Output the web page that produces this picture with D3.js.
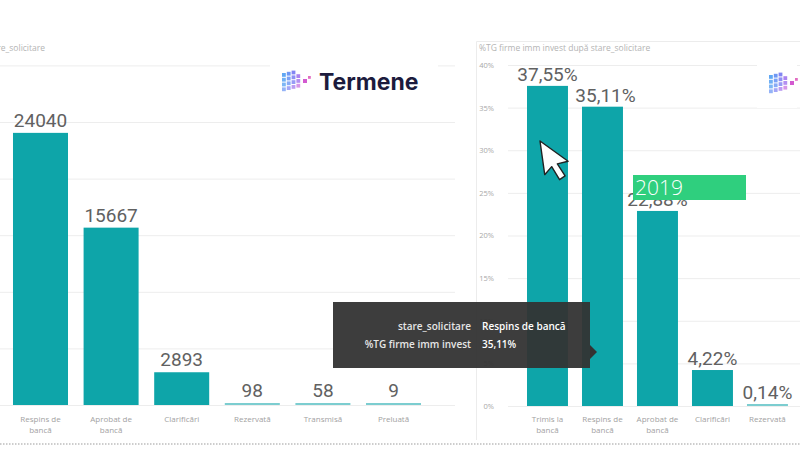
<!DOCTYPE html>
<html>
<head>
<meta charset="utf-8">
<script src="https://cdn.jsdelivr.net/npm/d3@7"></script>
<style>
  html, body { margin: 0; padding: 0; background: #fff; }
  svg { display: block; }
</style>
</head>
<body>
<svg id="chart" width="800" height="450"></svg>
<script>
// ---- Data ----
const leftCategories = ["Respins de bancă", "Aprobat de bancă", "Clarificări", "Rezervată", "Transmisă", "Preluată"];
const leftValues = [24040, 15667, 2893, 98, 58, 9];
const leftTicks = [0, 5000, 10000, 15000, 20000, 25000, 30000];

const rightCategories = ["Trimis la bancă", "Respins de bancă", "Aprobat de bancă", "Clarificări", "Rezervată"];
const rightValues = [0.3755, 0.3511, 0.2288, 0.0422, 0.0014];
const rightTicks = [0, 0.05, 0.10, 0.15, 0.20, 0.25, 0.30, 0.35, 0.40];
const rightTickLabels = ["0%", "5%", "10%", "15%", "20%", "25%", "30%", "35%", "40%"];

const leftTitle = "Număr firme după stare_solicitare";
const rightTitle = "%TG firme imm invest după stare_solicitare";
const tooltipKeys = ["stare_solicitare", "%TG firme imm invest"];
const tooltipIndex = 1;
const yearLabel = "2019";

// ---- Setup ----
const svg = d3.select("#chart");
const teal = "#0ea5a9";
const fmtPct = v => (v * 100).toFixed(2).replace(".", ",") + "%";
const labelFont = "Roboto, 'DejaVu Sans', sans-serif";
const uiFont = "'Open Sans', 'Noto Sans', sans-serif";

// ---- Left chart ----
const yL = d3.scaleLinear().domain([0, 30000]).range([405, 65.4]);
const xL = d3.scaleBand().domain(leftCategories).range([2.4, 431.6]).paddingInner(0.221).paddingOuter(0.15);

svg.append("text").attr("x", 45).attr("y", 51).attr("text-anchor", "end")
  .attr("font-family", uiFont).attr("font-size", 8.5).attr("fill", "#b4b4b4").text(leftTitle);

const gL = svg.append("g");
gL.append("g").attr("class", "grid")
  .call(d3.axisLeft(yL).tickValues(leftTicks).tickSize(-455).tickFormat(""))
  .call(g => g.select(".domain").remove())
  .call(g => g.selectAll("line").attr("stroke", "#ededed").attr("stroke-width", 1));

gL.selectAll("rect.bar").data(leftValues).join("rect")
  .attr("class", "bar")
  .attr("x", (d, i) => xL(leftCategories[i]))
  .attr("width", xL.bandwidth())
  .attr("y", d => Math.min(yL(d), yL(0) - 2))
  .attr("height", d => Math.max(yL(0) - yL(d), 2))
  .attr("fill", d => (yL(0) - yL(d)) < 3 ? "#7ccdd0" : teal);

gL.selectAll("text.val").data(leftValues).join("text")
  .attr("class", "val")
  .attr("x", (d, i) => xL(leftCategories[i]) + xL.bandwidth() / 2)
  .attr("y", d => Math.min(yL(d), yL(0) - 2) - 6)
  .attr("text-anchor", "middle")
  .attr("font-family", labelFont).attr("font-size", 19).attr("fill", "#616161")
  .text(d => d);

function catLabel(g, cats, x) {
  cats.forEach(c => {
    const parts = c.split(" ");
    const lines = parts.length >= 3 ? [parts.slice(0, parts.length - 1).join(" "), parts[parts.length - 1]] : [c];
    const cx = x(c) + x.bandwidth() / 2;
    const t = g.append("text")
      .attr("x", cx).attr("y", 422)
      .attr("text-anchor", "middle")
      .attr("font-family", uiFont).attr("font-size", 8).attr("fill", "#a2a2a2");
    lines.forEach((l, k) => t.append("tspan").attr("x", cx).attr("dy", k === 0 ? 0 : 11).text(l));
  });
}
catLabel(gL, leftCategories, xL);

// ---- Right chart ----
const yR = d3.scaleLinear().domain([0, 0.40]).range([406, 65]);
const xR = d3.scaleBand().domain(rightCategories).range([518.75, 796.2]).paddingInner(0.255).paddingOuter(0.15);

svg.append("path").attr("d", "M476.5,440 L476.5,41.5 L800,41.5")
  .attr("fill", "none").attr("stroke", "#ececec");

svg.append("text").attr("x", 479).attr("y", 51)
  .attr("font-family", uiFont).attr("font-size", 8.5).attr("fill", "#b4b4b4").text(rightTitle);

const gR = svg.append("g");
gR.append("g").attr("class", "grid")
  .attr("transform", "translate(508,0)")
  .call(d3.axisRight(yR).tickValues(rightTicks).tickSize(292).tickFormat(""))
  .call(g => g.select(".domain").remove())
  .call(g => g.selectAll("line").attr("stroke", "#ededed"));

gR.append("g").attr("transform", "translate(497,0)")
  .call(d3.axisLeft(yR).tickValues(rightTicks).tickSize(0).tickFormat((d, i) => rightTickLabels[i]))
  .call(g => g.select(".domain").remove())
  .call(g => g.selectAll("text").attr("font-family", uiFont).attr("font-size", 7.5).attr("fill", "#a8a8a8"));

gR.selectAll("rect.bar").data(rightValues).join("rect")
  .attr("class", "bar")
  .attr("x", (d, i) => xR(rightCategories[i]))
  .attr("width", xR.bandwidth())
  .attr("y", d => Math.min(yR(d), yR(0) - 2))
  .attr("height", d => Math.max(yR(0) - yR(d), 2))
  .attr("fill", d => (yR(0) - yR(d)) < 3 ? "#7ccdd0" : teal);

gR.selectAll("text.val").data(rightValues).join("text")
  .attr("class", "val")
  .attr("x", (d, i) => xR(rightCategories[i]) + xR.bandwidth() / 2 + (i === 1 ? 3 : 0))
  .attr("y", d => Math.min(yR(d), yR(0) - 2) - 5)
  .attr("text-anchor", "middle")
  .attr("font-family", labelFont).attr("font-size", 19).attr("fill", "#616161")
  .text(d => fmtPct(d));

catLabel(gR, rightCategories, xR);

// ---- Logos ----
function logo(x, y, withText) {
  const g = svg.append("g").attr("transform", `translate(${x},${y})`);
  g.append("rect").attr("x", -12).attr("y", -14).attr("width", withText ? 168 : 40).attr("height", 50).attr("fill", "#fff");
  const cols = ["#4f9df2", "#5d8cf3", "#7478f2", "#9868ec", "#c060dc"];
  // isometric-ish cube made of small tiles
  for (let r = 0; r < 4; r++) {
    for (let c = 0; c < 4; c++) {
      if (c === 3 && r === 0) continue;
      g.append("rect")
        .attr("x", c * 4.8).attr("y", r * 4.8 + 3 - c * 1.2)
        .attr("width", 3.8).attr("height", 3.8)
        .attr("fill", cols[Math.min(c + (r > 2 ? 1 : 0), cols.length - 1)])
        .attr("opacity", 0.9 - r * 0.08);
    }
  }
  g.append("rect").attr("x", 21).attr("y", 9).attr("width", 4).attr("height", 4).attr("fill", "#d35ad0");
  g.append("rect").attr("x", 26).attr("y", 6).attr("width", 2.8).attr("height", 2.8).attr("fill", "#e26dc2");
  if (withText) {
    g.append("text").attr("x", 37).attr("y", 20)
      .attr("font-family", "Inter, 'Open Sans', sans-serif").attr("font-weight", 700)
      .attr("font-size", 23).attr("fill", "#1c1b3d").text("Termene");
  }
}
logo(282, 70, true);
logo(769, 72, false);

// ---- Tooltip ----
const tip = svg.append("g");
tip.append("rect").attr("x", 333).attr("y", 302).attr("width", 257).attr("height", 66).attr("fill", "#333333").attr("opacity", 0.95);
tip.append("path").attr("d", "M590,345 L597,352 L590,359 Z").attr("fill", "#333333");
tooltipKeys.forEach((k, i) => {
  tip.append("text").attr("x", 471).attr("y", 330 + i * 18).attr("text-anchor", "end")
    .attr("font-family", uiFont).attr("font-size", 10).attr("font-weight", 600).attr("fill", "#e6e6e6").text(k);
});
tip.append("text").attr("x", 482).attr("y", 330)
  .attr("font-family", uiFont).attr("font-size", 10).attr("font-weight", 600).attr("fill", "#ffffff").text(rightCategories[tooltipIndex]);
tip.append("text").attr("x", 482).attr("y", 348)
  .attr("font-family", uiFont).attr("font-size", 10).attr("font-weight", 600).attr("fill", "#ffffff").text(fmtPct(rightValues[tooltipIndex]));

// ---- Year badge ----
svg.append("rect").attr("x", 633).attr("y", 175).attr("width", 113).attr("height", 25).attr("fill", "#2fcf7e");
svg.append("text").attr("x", 635).attr("y", 195)
  .attr("font-family", uiFont).attr("font-weight", 300).attr("font-size", 21).attr("fill", "#ffffff").text(yearLabel);

// ---- Cursor ----
svg.append("path")
  .attr("d", "M0,0 L0,34 L8,27 L14,41 L20,38 L14,25 L25,24 Z")
  .attr("transform", "translate(540,141) rotate(-8)")
  .attr("fill", "#ffffff").attr("stroke", "#222").attr("stroke-width", 1.4).attr("stroke-linejoin", "round");

// ---- Bottom dotted divider ----
svg.append("line").attr("x1", 0).attr("x2", 800).attr("y1", 444).attr("y2", 444)
  .attr("stroke", "#bdbdbd").attr("stroke-width", 1.5).attr("stroke-dasharray", "1.5,1.5");
</script>
</body>
</html>
